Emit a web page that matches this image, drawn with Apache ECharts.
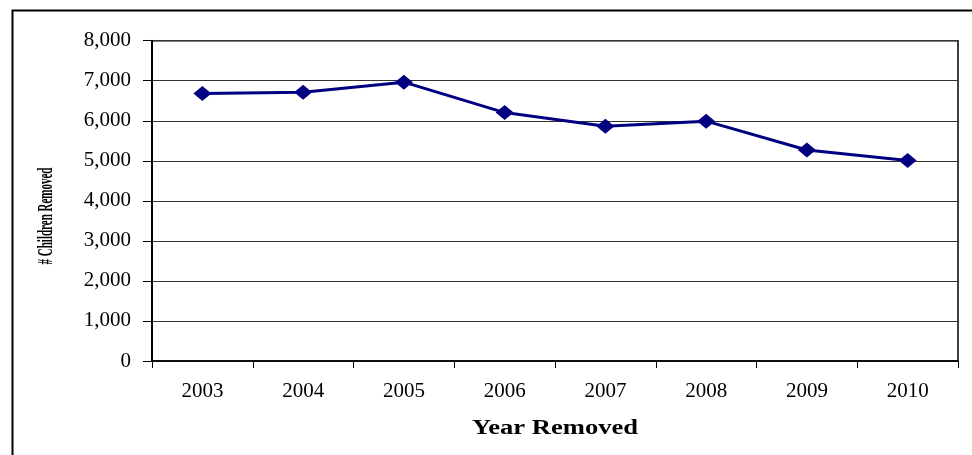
<!DOCTYPE html>
<html>
<head>
<meta charset="utf-8">
<script src="https://cdn.jsdelivr.net/npm/echarts@6/dist/echarts.min.js"></script>
<style>
html,body{margin:0;padding:0;background:#fff;}
#chart{width:972px;height:455px;}
</style>
</head>
<body>
<div id="chart"></div>
<script>
var years = ['2003','2004','2005','2006','2007','2008','2009','2010'];
var childrenRemoved = [6680, 6710, 6965, 6205, 5865, 5990, 5270, 5005];
var yAxisTitle = '# Children Removed';
var xAxisTitle = 'Year Removed';

var serif = '"Liberation Serif", "Times New Roman", serif';
var chart = echarts.init(document.getElementById('chart'), null, {renderer: 'canvas'});
chart.setOption({
  animation: false,
  backgroundColor: '#fff',
  grid: {left: 152, right: 14, top: 40.7, bottom: 94, show: true, borderColor: '#000', borderWidth: 1.5, backgroundColor: 'transparent'},
  xAxis: {
    type: 'category',
    data: years,
    boundaryGap: true,
    axisLine: {lineStyle: {color: '#000', width: 1.5}},
    axisTick: {show: true, length: 7, inside: false, lineStyle: {color: '#000', width: 1}},
    axisLabel: {margin: 20, fontFamily: serif, fontSize: 21, color: '#000'},
    splitLine: {show: false}
  },
  yAxis: {
    type: 'value',
    min: 0, max: 8000, interval: 1000,
    axisLine: {show: true, lineStyle: {color: '#000', width: 2}},
    axisTick: {show: true, length: 9, lineStyle: {color: '#000', width: 1}},
    axisLabel: {margin: 21, fontFamily: serif, fontSize: 21, color: '#000',
      formatter: function (v) { return v.toLocaleString('en-US'); }},
    splitLine: {show: true, lineStyle: {color: '#333', width: 1}}
  },
  series: [{
    type: 'line',
    data: childrenRemoved,
    symbol: 'diamond',
    symbolSize: [18, 15],
    itemStyle: {color: '#000080'},
    lineStyle: {color: '#000080', width: 3},
    z: 5
  }],
  graphic: [
    {type: 'rect', left: 10, top: 8, shape: {x: 0, y: 0, width: 990, height: 480},
     style: {fill: 'none', stroke: '#000', lineWidth: 2}, silent: true, z: 0},
    {type: 'text', x: 46, y: 216, rotation: Math.PI / 2, scaleX: 0.5, scaleY: 1,
     style: {text: yAxisTitle, font: 'bold 22px ' + serif, fill: '#000', textAlign: 'center', textVerticalAlign: 'middle'}},
    {type: 'text', x: 555, y: 429, scaleX: 1.33, scaleY: 1,
     style: {text: xAxisTitle, font: 'bold 20px ' + serif, fill: '#000', textAlign: 'center', textVerticalAlign: 'middle'}}
  ]
});
</script>
</body>
</html>
